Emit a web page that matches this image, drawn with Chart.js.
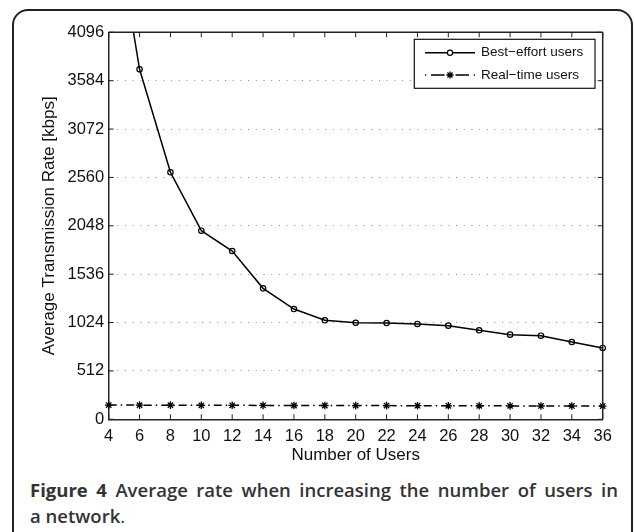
<!DOCTYPE html>
<html><head><meta charset="utf-8">
<script src="https://cdn.jsdelivr.net/npm/chart.js@4"></script>
<style>
html,body{margin:0;padding:0;background:#fff;width:634px;height:532px;overflow:hidden;}
#frame{position:absolute;left:12px;top:9px;width:617px;height:600px;border:2px solid #222;border-radius:16px;}
#wrap{position:absolute;left:0;top:0;width:634px;height:470px;}
#caption{position:absolute;left:30px;top:477px;width:588px;font-family:'Open Sans',sans-serif;font-size:18.5px;line-height:25.5px;color:#333;font-weight:600;}
#caption .l1{text-align:justify;text-align-last:justify;white-space:nowrap;}
#caption b{font-weight:700;}
#caption .p{font-weight:400;}
</style>
</head><body>
<div id="frame"></div>
<div id="wrap"><canvas id="c" width="634" height="470"></canvas></div>
<div id="caption"><div class="l1"><b>Figure 4</b> Average rate when increasing the number of users in</div><div>a network<span class="p">.</span></div></div>
<script>
const users = [4, 6, 8, 10, 12, 14, 16, 18, 20, 22, 24, 26, 28, 30, 32, 34, 36];
const bestEffort = [5700, 3704, 2614, 1996, 1781, 1386, 1167, 1048, 1022, 1019, 1009, 991, 942, 896, 885, 818, 755];
const realTime = [151, 150, 150, 148, 148, 147, 146, 146, 145, 145, 144, 143, 143, 142, 141, 141, 140];
const yTicks = [0, 512, 1024, 1536, 2048, 2560, 3072, 3584, 4096];
const seriesNames = ['Best\u2212effort users', 'Real\u2212time users'];
const xTitle = 'Number of Users';
const yTitle = 'Average Transmission Rate [kbps]';

const FONT = 'Liberation Sans';
const AX = '#222';

const boxPlugin = {
  id: 'box',
  afterDraw(chart) {
    const {ctx, chartArea: a, scales} = chart;
    ctx.save();
    ctx.strokeStyle = AX;
    ctx.lineWidth = 1.5;
    ctx.beginPath();
    ctx.moveTo(a.left, a.top); ctx.lineTo(a.right, a.top);
    ctx.moveTo(a.right, a.top); ctx.lineTo(a.right, a.bottom);
    ctx.stroke();
    ctx.lineWidth = 1;
    const tl = 5;
    ctx.beginPath();
    scales.x.ticks.forEach(t => {
      const px = scales.x.getPixelForValue(t.value);
      ctx.moveTo(px, a.bottom); ctx.lineTo(px, a.bottom - tl);
      ctx.moveTo(px, a.top); ctx.lineTo(px, a.top + tl);
    });
    scales.y.ticks.forEach(t => {
      const py = scales.y.getPixelForValue(t.value);
      ctx.moveTo(a.left, py); ctx.lineTo(a.left + tl, py);
      ctx.moveTo(a.right, py); ctx.lineTo(a.right - tl, py);
    });
    ctx.stroke();
    ctx.restore();
  }
};

const legendPlugin = {
  id: 'mlegend',
  afterDraw(chart) {
    const {ctx, chartArea: a} = chart;
    const w = 180.7, h = 49;
    const x0 = a.right - 7.7 - w, y0 = a.top + 7;
    ctx.save();
    ctx.fillStyle = '#fff';
    ctx.fillRect(x0, y0, w, h);
    ctx.strokeStyle = '#111';
    ctx.lineWidth = 1.2;
    ctx.strokeRect(x0, y0, w, h);
    const r1 = y0 + 13.4, r2 = y0 + 35.7;
    const lx0 = x0 + 10.7, lx1 = x0 + 60.7, mx = x0 + 35.7;
    ctx.lineWidth = 1.5;
    ctx.strokeStyle = '#000';
    ctx.beginPath(); ctx.moveTo(lx0, r1); ctx.lineTo(lx1, r1); ctx.stroke();
    ctx.lineWidth = 1.2;
    ctx.fillStyle = '#fff';
    ctx.beginPath(); ctx.arc(mx, r1, 2.6, 0, Math.PI * 2); ctx.fill(); ctx.stroke();
    ctx.lineWidth = 1.5;
    ctx.beginPath();
    ctx.moveTo(lx0, r2); ctx.lineTo(lx0 + 1.2, r2);
    ctx.moveTo(lx0 + 6, r2); ctx.lineTo(lx0 + 19.5, r2);
    ctx.moveTo(lx0 + 30.5, r2); ctx.lineTo(lx0 + 44, r2);
    ctx.moveTo(lx1 - 1.2, r2); ctx.lineTo(lx1, r2);
    ctx.stroke();
    ctx.lineWidth = 1.3;
    const s = 3.6;
    ctx.beginPath();
    for (let k = 0; k < 4; k++) {
      const ang = k * Math.PI / 4;
      ctx.moveTo(mx - s * Math.cos(ang), r2 - s * Math.sin(ang));
      ctx.lineTo(mx + s * Math.cos(ang), r2 + s * Math.sin(ang));
    }
    ctx.stroke();
    ctx.fillStyle = '#111';
    ctx.font = '13.5px "' + FONT + '"';
    ctx.textBaseline = 'middle';
    ctx.textAlign = 'left';
    ctx.fillText(seriesNames[0], x0 + 66.7, r1);
    ctx.fillText(seriesNames[1], x0 + 66.7, r2);
    ctx.restore();
  }
};

const toXY = arr => users.map((u, i) => ({x: u, y: arr[i]}));

new Chart(document.getElementById('c'), {
  type: 'line',
  data: {
    datasets: [
      {
        label: seriesNames[0], data: toXY(bestEffort),
        borderColor: '#000', borderWidth: 1.5, tension: 0, fill: false,
        pointStyle: 'circle', pointRadius: 2.7, pointBorderWidth: 1.2,
        pointBackgroundColor: 'rgba(0,0,0,0)', pointBorderColor: '#000',
        clip: {left: 6, right: 6, top: 0, bottom: 6}
      },
      {
        label: seriesNames[1], data: toXY(realTime),
        borderColor: '#000', borderWidth: 1.5, tension: 0, fill: false,
        borderDash: [8, 4, 1.5, 4],
        pointStyle: 'star', pointRadius: 3.8, pointBorderWidth: 1.3,
        pointBackgroundColor: '#000', pointBorderColor: '#000',
        clip: {left: 6, right: 6, top: 0, bottom: 6}
      }
    ]
  },
  options: {
    responsive: false, animation: false, events: [],
    layout: {padding: {top: 32.3, right: 31.3, left: 0, bottom: 0}},
    plugins: {legend: {display: false}, tooltip: {enabled: false}},
    scales: {
      x: {
        type: 'linear', min: 4, max: 36,
        ticks: {stepSize: 2, font: {family: FONT, size: 16.5}, color: '#111', padding: 7, maxRotation: 0, autoSkip: false,
          callback: v => String(v)},
        grid: {display: false, drawTicks: false},
        border: {display: true, color: AX, width: 1.5},
        title: {display: true, text: xTitle, font: {family: FONT, size: 17}, color: '#111', padding: {top: 0, bottom: 4}},
        afterFit(s) { s.height = 50.7; }
      },
      y: {
        type: 'linear', min: 0, max: 4096,
        afterBuildTicks(s) { s.ticks = yTicks.map(v => ({value: v})); },
        ticks: {font: {family: FONT, size: 16.5}, color: '#111', padding: 4.5, callback: v => String(v)},
        grid: {drawTicks: false, lineWidth: 1,
          color: c => (c.tick && (c.tick.value === 0 || c.tick.value === 4096)) ? 'rgba(0,0,0,0)' : '#8a8a8a'},
        border: {display: true, color: AX, width: 1.5, dash: [1, 6.7]},
        title: {display: true, text: yTitle, font: {family: FONT, size: 17}, color: '#111', padding: {top: 39, bottom: 0}},
        afterFit(s) { s.width = 108.7; }
      }
    }
  },
  plugins: [boxPlugin, legendPlugin]
});
</script>
</body></html>
